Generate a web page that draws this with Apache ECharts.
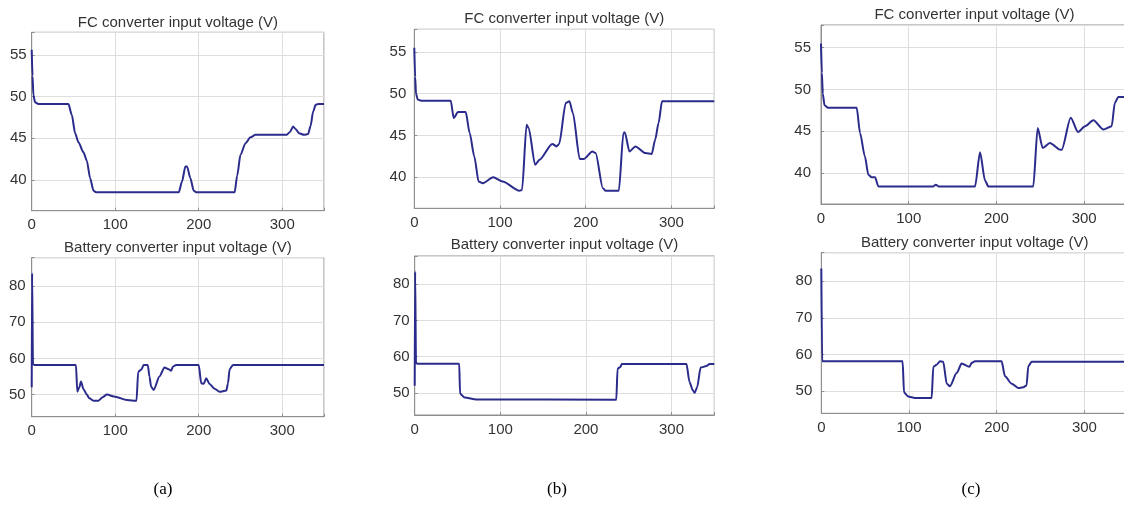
<!DOCTYPE html>
<html>
<head>
    <meta charset="UTF-8">
    <title>FC / battery converter input voltage</title>
    <script src="https://cdn.jsdelivr.net/npm/echarts@6/dist/echarts.min.js"></script>
</head>
<body style="margin:0;background-color:#fff;">
<div id="main" style="width:1124px;height:505px;"></div>
<script>
    // [time, voltage] pairs
    var fcA = [[0,55.6],[1,52.5],[2,50.2],[4,49.3],[8,49.1],[44,49.1],[48,47.8],[52,45.6],[56,44.5],[62,43.3],[66,42.3],[70,40.2],[74,38.7],[77,38.5],[176,38.5],[180,39.8],[184,41.6],[186,41.6],[190,40.2],[194,38.7],[197,38.5],[243,38.5],[246,40.5],[250,43],[256,44.4],[262,45.1],[268,45.4],[305,45.4],[309,45.7],[313,46.4],[316,46.1],[320,45.6],[326,45.4],[331,45.5],[334,46.5],[337,48.2],[340,49],[343,49.1],[350,49.1]];
    var batA = [[0,52],[0.5,83.5],[1.5,58.4],[3,58.2],[53,58.2],[54.6,50.8],[57,52],[59,53.6],[62,51.5],[66,50],[69,49],[74,48.3],[80,48.3],[85,49.3],[90,50],[100,49.4],[114,48.5],[125.5,48.3],[127.5,56.3],[131.5,57],[134,58.2],[139,58.2],[141,55],[143,52.2],[146,51.3],[153,55],[159,57.5],[164,57],[167,56.6],[169,57.7],[173,58.2],[200,58.2],[203,53.1],[206,53],[209,54.5],[213,52.9],[219,51.6],[225,50.8],[233,51.1],[235,53.1],[237,57],[241,58.2],[350,58.2]];
    var fcB = [[0,55.5],[1,52],[2,50],[4,49.3],[8,49.17],[42.5,49.17],[46,47.1],[51,47.8],[60,47.8],[64.6,45.3],[70,42.5],[75,39.5],[80,39.3],[92,40],[103,39.5],[122.6,38.4],[125.7,38.5],[131,46.3],[133.4,45.9],[141,41.5],[146,42.1],[161,44],[166,43.7],[169,44],[176.7,48.9],[181,49.1],[185,47.7],[193,42.2],[198,42.2],[207.7,43.1],[211.5,42.9],[220,38.7],[223,38.4],[238.6,38.4],[244,45.3],[245.5,45.4],[251,43.1],[258,43.7],[269.5,42.9],[277,42.8],[281,44.5],[285,46.5],[289,49.1],[350,49.1]];
    var batB = [[0,52],[0.5,83.5],[1.5,58.3],[3,58.05],[52,58.05],[53,49.8],[58.4,48.7],[72,48.2],[235.5,48.1],[237,56.7],[240,57.1],[242,58],[317.5,58],[321,53],[325,50.7],[327,50],[330,51.6],[334,57],[340.7,57.4],[344.5,58],[350,58]];
    var fcC = [[0,55.5],[1,52],[2,49.5],[4,48.1],[8,47.8],[40.7,47.8],[44.5,44.8],[50,42],[54,39.8],[57.8,39.5],[61.6,39.5],[65.4,38.4],[128,38.4],[131,38.6],[134,38.4],[175.6,38.4],[181.3,42.5],[187,39.1],[190.8,38.4],[242,38.4],[247,45.4],[252.7,43],[261,43.6],[272.5,42.8],[274.4,42.8],[284.7,46.6],[293,44.9],[301,45.6],[310.5,46.3],[322,45.2],[331.4,45.6],[335,48.4],[339,49.1],[350,49.1]];
    var batC = [[0,83.5],[1,58.2],[3,58.1],[92.7,58.1],[94.3,49.6],[99,48.5],[106.8,48.1],[125.8,48.1],[127.7,56.6],[131.5,57.2],[135.3,58.1],[139,58],[143,52],[146.7,51.3],[154.3,54.9],[160,57.5],[168.8,56.6],[171.4,57.7],[175.2,58.1],[205.6,58.1],[209.4,54],[217,52],[224.6,50.8],[230.3,51],[234,51.5],[236,56.8],[239.8,58],[350,58]];

    var xRange = [0, 350];
    var fcRange = [36.3, 57.7];
    var batRange = [43.9, 87.8];
    var fcTitle = 'FC converter input voltage (V)';
    var batTitle = 'Battery converter input voltage (V)';
    var captions = ['(a)', '(b)', '(c)'];

    var col = {
        line: '#2b2b8c',
        axis: '#8f8f8f',
        grid: '#dedede',
        text: '#333'
    };

    // panel layout (pixels)
    var panels = [
        {data: fcA, range: fcRange, step: 5, title: fcTitle, left: 31.7, top: 32.3, width: 292.3, height: 178.4, ty: 22.7, ym: 5},
        {data: batA, range: batRange, step: 10, title: batTitle, left: 31.7, top: 257.7, width: 292.3, height: 159, ty: 248, ym: 6},
        {data: fcB, range: fcRange, step: 5, title: fcTitle, left: 414.3, top: 29.3, width: 300, height: 179, ty: 19.3, ym: 8},
        {data: batB, range: batRange, step: 10, title: batTitle, left: 414.7, top: 256, width: 299.6, height: 159, ty: 245, ym: 5},
        {data: fcC, range: fcRange, step: 5, title: fcTitle, left: 821, top: 25, width: 307, height: 179, ty: 15, ym: 10},
        {data: batC, range: batRange, step: 10, title: batTitle, left: 821.3, top: 252.7, width: 307, height: 160.6, ty: 243.3, ym: 9}
    ];
    var captionPos = [[163, 490], [557, 490], [971, 490]];

    var grids = [], xAxes = [], yAxes = [], series = [], graphics = [];
    panels.forEach(function (p, i) {
        grids.push({
            left: p.left, top: p.top, width: p.width, height: p.height,
            outerBoundsMode: 'none', containLabel: false,
            show: true, borderColor: col.axis, borderWidth: 1
        });
        xAxes.push({
            type: 'value', gridIndex: i, min: xRange[0], max: xRange[1], interval: 100,
            axisLine: {show: true, lineStyle: {color: col.axis}},
            axisTick: {show: true, inside: true, length: 3, lineStyle: {color: col.axis}},
            axisLabel: {
                color: col.text, fontSize: 15, margin: 7, fontFamily: 'Liberation Sans',
                formatter: function (v) { return v % 100 === 0 ? String(v) : ''; }
            },
            splitLine: {show: true, lineStyle: {color: col.grid}}
        });
        yAxes.push({
            type: 'value', gridIndex: i, min: p.range[0], max: p.range[1],
            axisLine: {show: true, lineStyle: {color: col.axis}},
            axisTick: {show: true, inside: true, length: 3, lineStyle: {color: col.axis}},
            axisLabel: {
                color: col.text, fontSize: 15, margin: p.ym, fontFamily: 'Liberation Sans',
                formatter: function (v) { return Math.abs(v % p.step) < 1e-6 ? String(v) : ''; }
            },
            splitLine: {show: true, lineStyle: {color: col.grid}}
        });
        series.push({
            type: 'line', xAxisIndex: i, yAxisIndex: i, data: p.data,
            showSymbol: false, smooth: 0.25, smoothMonotone: 'x',
            lineStyle: {color: col.line, width: 2}
        });
        graphics.push({
            type: 'text', x: p.left + p.width / 2, y: p.ty,
            style: {
                text: p.title, fill: col.text, font: '15px "Liberation Sans", Arial, sans-serif',
                textAlign: 'center', textVerticalAlign: 'middle'
            }
        });
    });
    captions.forEach(function (c, i) {
        graphics.push({
            type: 'text', x: captionPos[i][0], y: captionPos[i][1],
            style: {
                text: c, fill: '#000', font: '17px "Liberation Serif", "Times New Roman", serif',
                textAlign: 'center', textVerticalAlign: 'middle'
            }
        });
    });

    var myChart = echarts.init(document.getElementById('main'));
    myChart.setOption({
        animation: false,
        grid: grids,
        xAxis: xAxes,
        yAxis: yAxes,
        series: series,
        graphic: graphics
    });
</script>
</body>
</html>
